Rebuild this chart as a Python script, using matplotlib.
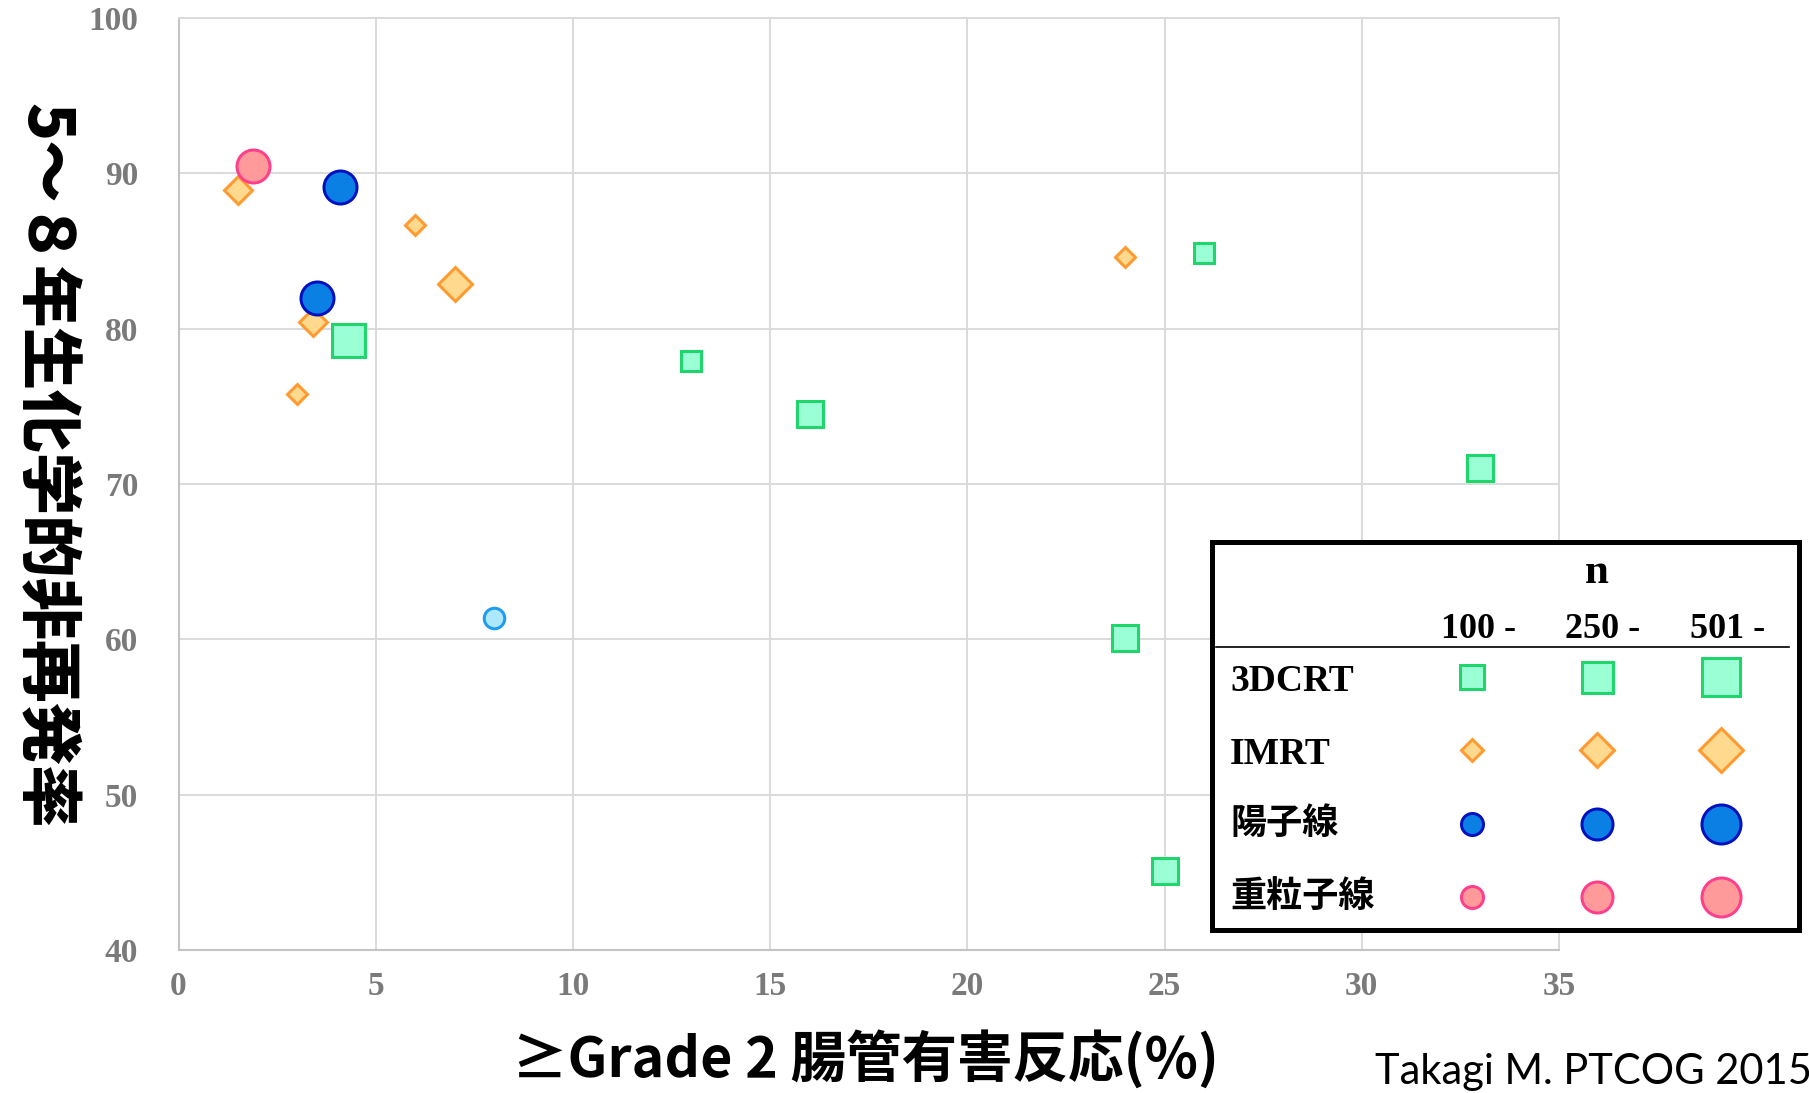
import matplotlib
matplotlib.use("Agg")
import matplotlib.pyplot as plt

# ---- data ----
# n classes used for marker size
n_classes = ["100 -", "250 -", "501 -"]

crt_x = [4.3, 13.0, 16.0, 24.0, 25.0, 26.0, 33.0]
crt_y = [79.3, 77.9, 74.5, 60.1, 45.1, 84.9, 71.0]
crt_n = ["501 -", "100 -", "250 -", "250 -", "250 -", "100 -", "250 -"]

imrt_x = [1.5, 3.4, 3.0, 6.0, 7.0, 24.0]
imrt_y = [88.9, 80.4, 75.8, 86.7, 82.9, 84.6]
imrt_n = ["250 -", "250 -", "100 -", "100 -", "501 -", "100 -"]

proton_x = [4.1, 3.5]
proton_y = [89.1, 82.0]
proton_n = ["501 -", "501 -"]

# single light-blue circle (not listed in the key)
other_x = [8.0]
other_y = [61.4]
other_n = ["100 -"]

carbon_x = [1.9]
carbon_y = [90.5]
carbon_n = ["501 -"]

legend_rows = ["3DCRT", "IMRT", "陽子線", "重粒子線"]

x_ticks = [0, 5, 10, 15, 20, 25, 30, 35]
y_ticks = [40, 50, 60, 70, 80, 90, 100]

# ---- styles ----
PX = 72.0 / 100.0  # points per pixel at dpi 100
EDGE_PX = 3.0

styles = {
    "3DCRT": dict(marker="s", mfc="#9bffd6", mec="#1ed66a"),
    "IMRT": dict(marker="D", mfc="#ffd98e", mec="#ff9a30"),
    "陽子線": dict(marker="o", mfc="#0a80e4", mec="#0010c0"),
    "other": dict(marker="o", mfc="#aee8ff", mec="#1e9cf2"),
    "重粒子線": dict(marker="o", mfc="#ff9a9a", mec="#ff3f8c"),
}

# outer marker sizes in pixels (plot / key)
plot_px = {"100 -": 23.5, "250 -": 30.0, "501 -": 36.0}
key_px = {
    "s": {"100 -": 26.5, "250 -": 34.0, "501 -": 41.0},
    "D": {"100 -": 24.5, "250 -": 36.0, "501 -": 47.0},
    "o": {"100 -": 25.0, "250 -": 34.0, "501 -": 42.0},
}


def ms_from_px(marker, outer):
    inner = outer - EDGE_PX
    if marker == "D":
        return inner / 1.414 * PX
    return inner * PX


fig = plt.figure(figsize=(18.09, 10.93), dpi=100)
ax = fig.add_axes([178.5 / 1809, (1093 - 950) / 1093,
                   (1559 - 178.5) / 1809, (950 - 18) / 1093])

series = [
    ("3DCRT", crt_x, crt_y, crt_n),
    ("IMRT", imrt_x, imrt_y, imrt_n),
    ("other", other_x, other_y, other_n),
    ("陽子線", proton_x, proton_y, proton_n),
    ("重粒子線", carbon_x, carbon_y, carbon_n),
]
for z, (name, xs, ys, ns) in enumerate(series):
    st = styles[name]
    for x, y, n in zip(xs, ys, ns):
        ax.plot([x], [y], linestyle="none", marker=st["marker"],
                markersize=ms_from_px(st["marker"], plot_px[n]),
                markerfacecolor=st["mfc"], markeredgecolor=st["mec"],
                markeredgewidth=EDGE_PX * PX, zorder=3 + z)

ax.set_xlim(0, 35)
ax.set_ylim(40, 100)
ax.set_xticks(x_ticks)
ax.set_yticks(y_ticks)
ax.grid(True, color="#dadada", linewidth=1.4)
ax.set_axisbelow(True)
for side in ["top", "right"]:
    ax.spines[side].set_color("#dadada")
    ax.spines[side].set_linewidth(1.4)
for side in ["left", "bottom"]:
    ax.spines[side].set_color("#c4c4c4")
    ax.spines[side].set_linewidth(1.5)

tick_font = dict(family="Liberation Serif", weight="bold", size=24)
ax.tick_params(axis="both", length=0, colors="#7a7a7a")
ax.tick_params(axis="x", pad=15)
ax.tick_params(axis="y", pad=29)
for lab in ax.get_xticklabels() + ax.get_yticklabels():
    lab.set_fontfamily(tick_font["family"])
    lab.set_fontweight(tick_font["weight"])
    lab.set_fontsize(tick_font["size"])

cjk = ["Noto Sans CJK JP", "DejaVu Sans"]
fig.text(46 / 1809, 1 - 466 / 1093, "5～８年生化学的非再発率", rotation=-90,
         ha="center", va="center", family=cjk, weight="heavy", fontsize=45)
fig.text(865 / 1809, (1093 - 1077) / 1093, "≥Grade 2 腸管有害反応(%)",
         ha="center", va="baseline", family=cjk, weight="bold", fontsize=40)
fig.text(1375 / 1809, (1093 - 1084) / 1093, "Takagi M. PTCOG 2015",
         ha="left", va="baseline", family="Lato", fontsize=30)

# ---- key table drawn in its own axes ----
lax = fig.add_axes([1212 / 1809, (1093 - 930) / 1093,
                    (1799 - 1212) / 1809, (930 - 542) / 1093])
lax.set_xlim((1212 - 1472) / 124.5, (1799 - 1472) / 124.5)
lax.set_ylim((930 - 677) / 73.3, (542 - 677) / 73.3)
lax.set_xticks([])
lax.set_yticks([])
lax.set_facecolor("white")
for sp in lax.spines.values():
    sp.set_linewidth(3.6)
    sp.set_color("black")

serif_b = dict(family="Liberation Serif", weight="bold")
lax.text(1.0, (583 - 677) / 73.3, "n", ha="center", va="baseline",
         fontsize=31, **serif_b)
for j, lab in enumerate(n_classes):
    lax.text(j + 0.05, (638 - 677) / 73.3, lab, ha="center", va="baseline",
             fontsize=26, **serif_b)
lax.plot([-2.06, 2.55], [(647 - 677) / 73.3] * 2, color="black", lw=1.2)

for i, name in enumerate(legend_rows):
    if name.isascii():
        lax.text(-1.944, i + 0.06, name, ha="left", va="center", fontsize=27,
                 **serif_b)
    else:
        lax.text(-1.944, i, name, ha="left", va="center", fontsize=26,
                 family=cjk, weight="bold")
    st = styles[name]
    for j, n in enumerate(n_classes):
        lax.plot([j], [i], linestyle="none", marker=st["marker"],
                 markersize=ms_from_px(st["marker"], key_px[st["marker"]][n]),
                 markerfacecolor=st["mfc"], markeredgecolor=st["mec"],
                 markeredgewidth=EDGE_PX * PX)

fig.savefig("out.png", dpi=100)
